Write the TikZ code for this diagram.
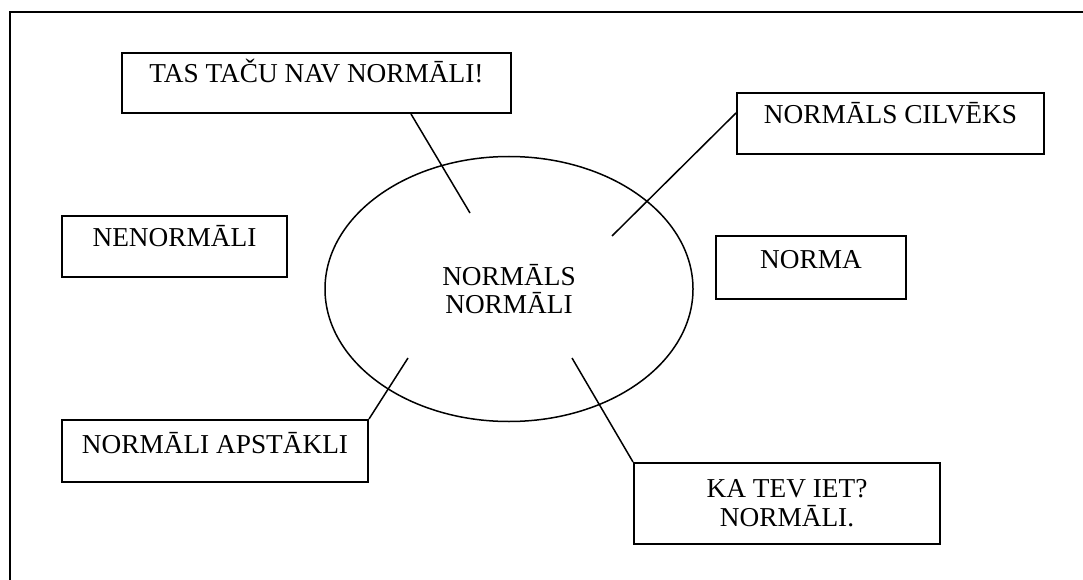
\documentclass[tikz,border=0pt]{standalone}
\usepackage{fontspec}
\setmainfont{Liberation Serif}
\usetikzlibrary{shapes.geometric}
\begin{document}
\begin{tikzpicture}[x=1pt,y=-1pt,
  every node/.style={font=\fontsize{27.3}{28.5}\selectfont, inner sep=0pt},
  tbox/.style={draw, line width=2pt, align=center, anchor=north west},
  link/.style={line width=1.5pt}]
\useasboundingbox (0,0) rectangle (1083,580);
% page frame
\draw[line width=2.4pt] (10,580) -- (10,12) -- (1083,12);

% central ellipse
\node[ellipse, draw, line width=1.5pt, minimum width=368pt, minimum height=265pt,
      align=center] (core) at (509,289) {NORMĀLS\\NORMĀLI};

% surrounding text boxes
\node[tbox, minimum width=389pt, text height=30pt, text depth=30pt] (tas) at (121,52) {TAS TAČU NAV NORMĀLI!};
\node[tbox, minimum width=307pt, text height=31pt, text depth=30pt] (cil) at (736,92) {NORMĀLS CILVĒKS};
\node[tbox, minimum width=225pt, text height=30pt, text depth=31pt] (nen) at (61,215) {NENORMĀLI};
\node[tbox, minimum width=190pt, text height=32pt, text depth=31pt] (nor) at (715,235) {NORMA};
\node[tbox, minimum width=306pt, text height=33pt, text depth=29pt] (aps) at (61,419) {NORMĀLI APSTĀKLI};
\node[tbox, minimum width=306pt, text height=63pt, text depth=18pt] (ka) at (633,462) {KA TEV IET?\\NORMĀLI.};

% free ends of the connectors, inside the ellipse
\coordinate (p1) at (470,213);
\coordinate (p2) at (612,236);
\coordinate (p3) at (408,358);
\coordinate (p4) at (572,358);

\draw[link] ([xshift=94.5pt]tas.south) -- (p1);
\draw[link] ([yshift=10.5pt]cil.west) -- (p2);
\draw[link] (aps.north east) -- (p3);
\draw[link] (ka.north west) -- (p4);
\end{tikzpicture}
\end{document}
